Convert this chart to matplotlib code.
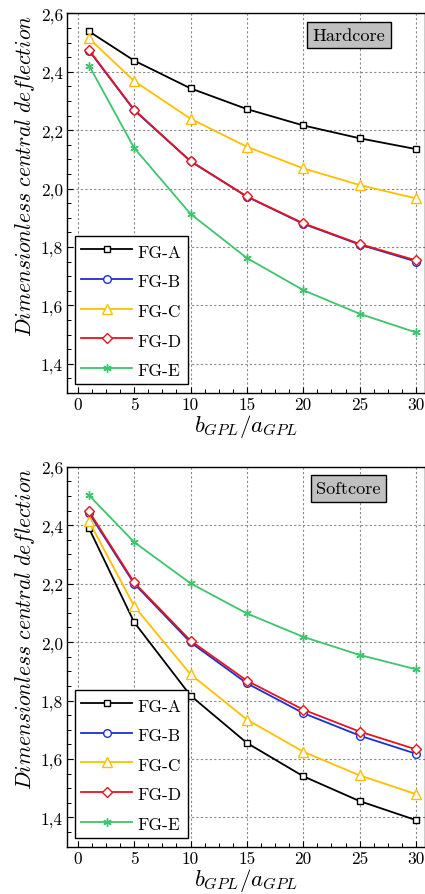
import numpy as np
import matplotlib
matplotlib.use('Agg')
import matplotlib.pyplot as plt
from matplotlib.ticker import MultipleLocator

plt.rcParams['font.family'] = ['cmr10', 'DejaVu Serif']
plt.rcParams['mathtext.fontset'] = 'cm'
plt.rcParams['axes.formatter.use_mathtext'] = True

# rapport b_GPL / a_GPL
x = [1, 5, 10, 15, 20, 25, 30]

# Hardcore
hard_A = [2.538, 2.438, 2.343, 2.272, 2.216, 2.172, 2.135]
hard_B = [2.472, 2.268, 2.093, 1.972, 1.879, 1.808, 1.750]
hard_C = [2.514, 2.368, 2.239, 2.143, 2.069, 2.012, 1.966]
hard_D = [2.474, 2.270, 2.094, 1.973, 1.881, 1.810, 1.754]
hard_E = [2.421, 2.139, 1.913, 1.762, 1.652, 1.571, 1.507]

# Softcore
soft_A = [2.389, 2.068, 1.817, 1.655, 1.541, 1.456, 1.391]
soft_B = [2.441, 2.200, 1.999, 1.859, 1.757, 1.680, 1.618]
soft_C = [2.413, 2.123, 1.890, 1.735, 1.625, 1.544, 1.480]
soft_D = [2.447, 2.204, 2.005, 1.868, 1.769, 1.694, 1.633]
soft_E = [2.502, 2.342, 2.201, 2.098, 2.018, 1.956, 1.907]

noms = ['FG-A', 'FG-B', 'FG-C', 'FG-D', 'FG-E']
couleurs = ['black', '#1a2fd6', '#ffbf00', '#e8141c', '#3ec46d']
marqueurs = ['s', 'o', '^', 'D', (6, 2, 0)]
tailles = [5, 5.5, 6.5, 5, 6]

yticks = [1.4, 1.6, 1.8, 2.0, 2.2, 2.4, 2.6]
ytick_labels = ['1,4', '1,6', '1,8', '2,0', '2,2', '2,4', '2,6']
xticks = [0, 5, 10, 15, 20, 25, 30]
xtick_labels = ['0', '5', '10', '15', '20', '25', '30']

W, H = 425, 895
fig = plt.figure(figsize=(W / 100, H / 100), dpi=100)
ax1 = fig.add_axes([66.5 / W, 1 - 393.9 / H, 358.5 / W, 379.6 / H])
ax2 = fig.add_axes([66.5 / W, 1 - 847.7 / H, 358.5 / W, 380.0 / H])


def trace(ax, series, titre):
    for ys, nom, c, m, s in zip(series, noms, couleurs, marqueurs, tailles):
        ax.plot(x, ys, color=c, lw=1.3, marker=m, ms=s, mfc='white' if m != (6, 2, 0) else c,
                mec=c, mew=1.0, label=nom)
    ax.set_xlim(-1.0, 30.8)
    ax.set_ylim(1.3, 2.6)
    ax.set_yticks(yticks, ytick_labels)
    ax.set_xticks(xticks, xtick_labels)
    ax.yaxis.set_minor_locator(MultipleLocator(0.05))
    ax.xaxis.set_minor_locator(MultipleLocator(1.25))
    ax.tick_params(which='both', direction='in', top=False, right=False, labelsize=12.5,
                   colors='black', pad=2.5)
    ax.tick_params(which='major', length=4, width=0.8)
    ax.tick_params(which='minor', length=2.8, width=0.7)
    ax.grid(True, which='major', color='#8a8a8a', ls=(0, (2, 2)), lw=0.8)
    for sp in ax.spines.values():
        sp.set_linewidth(1.0)
    ax.set_ylabel(r'$\mathit{Dimensionless\ central\ deflection}$', fontsize=15.5)
    ax.yaxis.set_label_coords(-0.082, 0.575)
    ax.set_xlabel(r'$b_{GPL}/a_{GPL}$', fontsize=16.5, labelpad=0)
    leg = ax.legend(loc='lower left', fontsize=12.5, handlelength=2.95, handleheight=1.2,
                    labelspacing=0.68, borderaxespad=0.5, fancybox=False, framealpha=1,
                    edgecolor='black', handletextpad=0.3, borderpad=0.35)
    leg.get_frame().set_linewidth(1.0)
    ax.text(0.787, 0.943, titre, transform=ax.transAxes, ha='center', va='center', fontsize=13.2,
            bbox=dict(boxstyle='square,pad=0.3', fc='#c0c0c0', ec='black', lw=1.0))


trace(ax1, [hard_A, hard_B, hard_C, hard_D, hard_E], 'Hardcore')
trace(ax2, [soft_A, soft_B, soft_C, soft_D, soft_E], 'Softcore')

plt.savefig('out.png', dpi=100)
plt.close()
